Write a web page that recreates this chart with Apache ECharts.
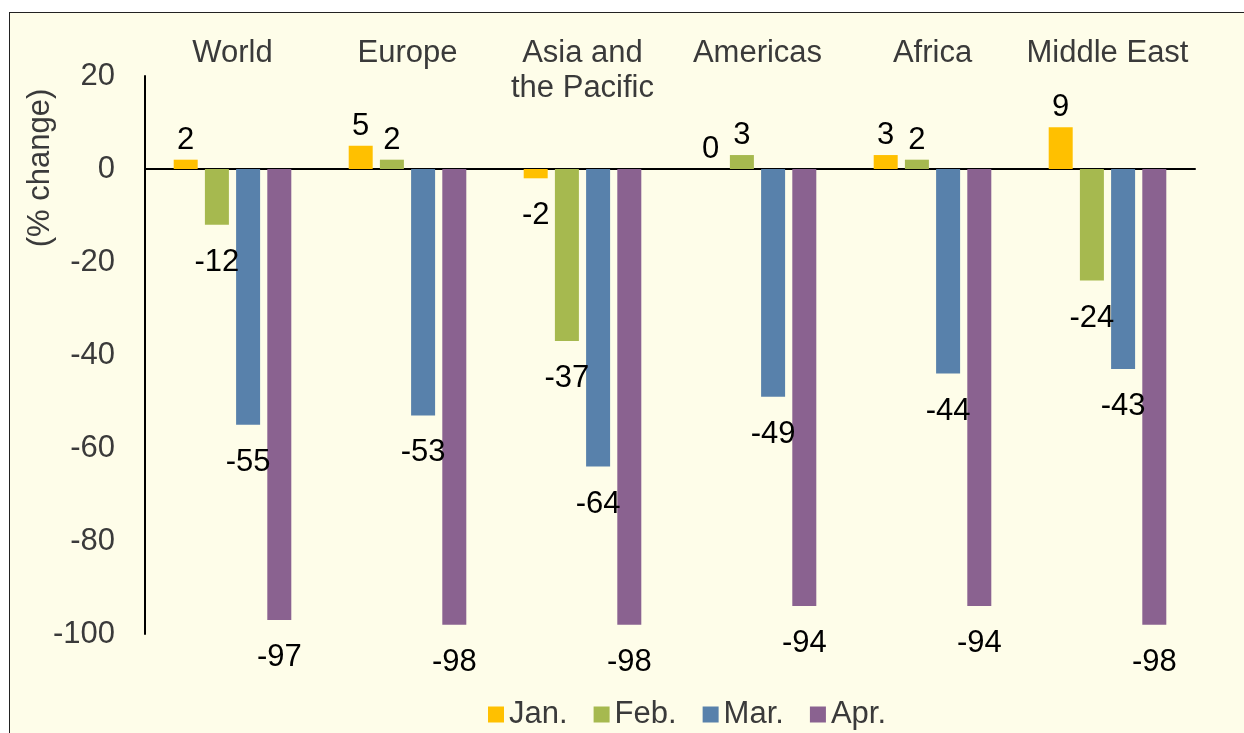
<!DOCTYPE html>
<html>
<head>
<meta charset="utf-8">
<script src="https://cdn.jsdelivr.net/npm/echarts@6/dist/echarts.min.js"></script>
<style>
  html, body { margin: 0; padding: 0; background: #ffffff; }
  #frame {
    position: absolute; left: 9px; top: 12px; width: 1235px; height: 721px;
    background: #fefde9; border-top: 1px solid #222; border-left: 1px solid #222;
  }
  #chart { position: absolute; left: 0; top: 0; width: 1244px; height: 733px; }
</style>
</head>
<body>
<div id="frame"></div>
<div id="chart"></div>
<script>
const regions = ['World', 'Europe', 'Asia and\nthe Pacific', 'Americas', 'Africa', 'Middle East']
const months = ['Jan.', 'Feb.', 'Mar.', 'Apr.']
const jan = [2, 5, -2, 0, 3, 9]
const feb = [-12, 2, -37, 3, 2, -24]
const mar = [-55, -53, -64, -49, -44, -43]
const apr = [-97, -98, -98, -94, -94, -98]
const colors = ['#ffc000', '#a6b94f', '#5881ab', '#8a6290']

const font = 'Liberation Sans, Arial, sans-serif'

function withLabels(values) {
  return values.map(v => ({
    value: v,
    label: {
      position: v >= 0 ? 'top' : 'bottom',
      distance: v >= 0 ? 4 : 22
    }
  }))
}

const myChart = echarts.init(document.getElementById('chart'))

myChart.setOption({
  animation: false,
  backgroundColor: 'transparent',
  color: colors,
  grid: {
    left: 145,
    right: 49,
    top: 76,
    bottom: 99
  },
  legend: {
    data: months,
    left: 483,
    top: 694,
    itemWidth: 16,
    itemHeight: 16,
    itemGap: 26,
    icon: 'rect',
    textStyle: { fontFamily: font, fontSize: 31, color: '#3a3a3a' }
  },
  graphic: [{
    type: 'text',
    x: 40,
    y: 168,
    rotation: Math.PI / 2,
    style: {
      text: '(% change)',
      fontFamily: font,
      fontSize: 31,
      fill: '#3a3a3a',
      align: 'center',
      verticalAlign: 'middle'
    }
  }],
  xAxis: [
    {
      type: 'category',
      data: regions,
      axisLine: { onZero: true, lineStyle: { color: '#000', width: 2 } },
      axisTick: { show: false },
      axisLabel: { show: false }
    },
    {
      type: 'category',
      data: regions,
      position: 'top',
      axisLine: { show: false },
      axisTick: { show: false },
      axisLabel: {
        interval: 0,
        fontFamily: font,
        fontSize: 31,
        color: '#3a3a3a',
        verticalAlign: 'top',
        lineHeight: 35,
        margin: 40
      }
    }
  ],
  yAxis: {
    type: 'value',
    min: -100,
    max: 20,
    interval: 20,
    axisLine: { show: true, lineStyle: { color: '#000', width: 2 } },
    axisTick: { show: false },
    splitLine: { show: false },
    axisLabel: {
      fontFamily: font,
      fontSize: 31,
      color: '#3a3a3a',
      margin: 30
    }
  },
  series: [jan, feb, mar, apr].map((vals, i) => ({
    name: months[i],
    type: 'bar',
    xAxisIndex: 0,
    barWidth: 24,
    barGap: '30%',
    data: withLabels(vals),
    label: {
      show: true,
      fontFamily: font,
      fontSize: 31,
      color: '#000'
    }
  }))
})
</script>
</body>
</html>
